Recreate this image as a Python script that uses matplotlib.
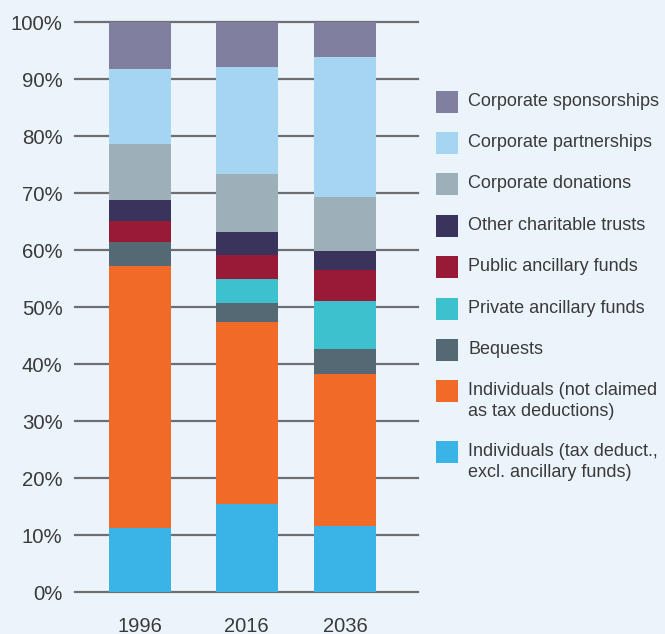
import matplotlib
matplotlib.use("Agg")
import matplotlib.pyplot as plt
from matplotlib.patches import Rectangle

years = ["1996", "2016", "2036"]

# Share of giving by source (%), stacked bottom to top
series_names = [
    "Individuals (tax deduct.,\nexcl. ancillary funds)",
    "Individuals (not claimed\nas tax deductions)",
    "Bequests",
    "Private ancillary funds",
    "Public ancillary funds",
    "Other charitable trusts",
    "Corporate donations",
    "Corporate partnerships",
    "Corporate sponsorships",
]
indiv_tax_deduct = [11.3, 15.5, 11.6]
indiv_not_claimed = [45.9, 31.9, 26.7]
bequests = [4.2, 3.3, 4.4]
private_ancillary = [0.0, 4.2, 8.4]
public_ancillary = [3.7, 4.3, 5.4]
other_trusts = [3.7, 4.0, 3.3]
corp_donations = [9.8, 10.2, 9.6]
corp_partnerships = [13.2, 18.7, 24.5]
corp_sponsorships = [8.2, 7.9, 6.1]

y_ticks = [0, 10, 20, 30, 40, 50, 60, 70, 80, 90, 100]

colors = ["#3AB3E6", "#F26A27", "#546974", "#3EC1CE", "#991A37",
          "#3A335C", "#9DAFB8", "#A6D5F2", "#817FA0"]
series = [indiv_tax_deduct, indiv_not_claimed, bequests, private_ancillary,
          public_ancillary, other_trusts, corp_donations, corp_partnerships,
          corp_sponsorships]

bg = "#ECF4FB"
text_color = "#3A3A3A"
font = "Liberation Sans"

fig = plt.figure(figsize=(6.65, 6.34), dpi=100, facecolor=bg)
ax = fig.add_axes([75 / 665, 1 - 592.3 / 634, 343 / 665, 570.3 / 634])
ax.set_facecolor(bg)

x = [0, 1.04, 2.0]
bottom = [0.0, 0.0, 0.0]
for vals, col in zip(series, colors):
    ax.bar(x, vals, width=0.605, bottom=bottom, color=col, zorder=3,
           linewidth=0)
    bottom = [b + v for b, v in zip(bottom, vals)]

ax.set_xlim(-0.634, 2.712)
ax.set_ylim(0, 100)
ax.set_yticks(y_ticks)
ax.set_yticklabels([f"{t}%" for t in y_ticks], fontsize=14.7,
                   color=text_color, family=font)
ax.set_xticks(x)
ax.set_xticklabels(years, fontsize=14.5, color=text_color, family=font)
ax.tick_params(axis="both", length=0)
ax.tick_params(axis="y", pad=9)
ax.tick_params(axis="x", pad=18)
for s in ax.spines.values():
    s.set_visible(False)
ax.grid(axis="y", color="#6D6E71", linewidth=1.6, zorder=1)
ax.set_axisbelow(True)
for gl in ax.get_ygridlines():
    gl.set_clip_on(False)

# Legend, top entry first
legend_y = [102, 143, 184, 226, 267, 309, 350, 391, 452]
for name, col, yc in zip(series_names[::-1], colors[::-1], legend_y):
    fig.patches.append(Rectangle((436 / 665, 1 - (yc + 11) / 634), 22 / 665,
                                 22 / 634, transform=fig.transFigure,
                                 facecolor=col, edgecolor="none"))
    fig.text(468 / 665, 1 - (yc - 9) / 634, name, fontsize=13,
             color=text_color, family=font, va="top", ha="left",
             linespacing=1.3)

fig.savefig("out.png", dpi=100, facecolor=bg)
